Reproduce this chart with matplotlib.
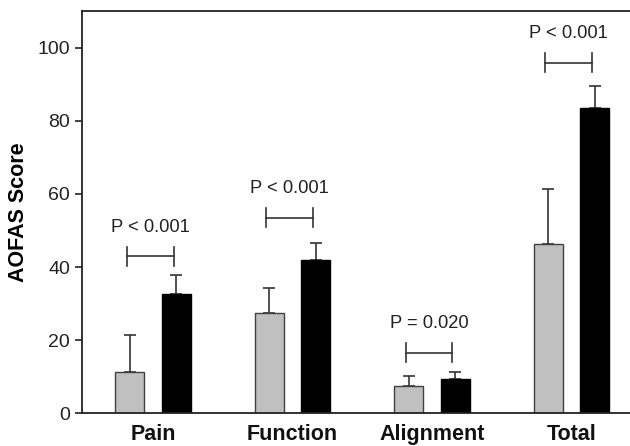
import numpy as np
import matplotlib
matplotlib.use("Agg")
import matplotlib.pyplot as plt

plt.rcParams['font.family'] = ['Liberation Sans', 'DejaVu Sans']

categories = ["Pain", "Function", "Alignment", "Total"]
pre_means = [11.2, 27.4, 7.5, 46.3]
pre_err = [10.2, 6.9, 2.7, 14.9]
post_means = [32.5, 41.8, 9.3, 83.5]
post_err = [5.4, 4.8, 2.1, 5.9]
p_labels = ["P < 0.001", "P < 0.001", "P = 0.020", "P < 0.001"]
bracket_y = [42.9, 53.5, 16.6, 95.9]

x = np.arange(len(categories))
offset = 0.167
width = 0.208

fig = plt.figure(figsize=(6.3, 4.46), dpi=100)
ax = fig.add_axes([0.130, 0.0733, 0.870, 0.902])

ax.bar(x - offset, pre_means, width, color="#c0c0c0", edgecolor="#404040", linewidth=1.0, zorder=2)
ax.bar(x + offset, post_means, width, color="#000000", edgecolor="#000000", linewidth=1.0, zorder=2)
ax.errorbar(x - offset, pre_means, yerr=[np.zeros(4), pre_err], fmt="none",
            ecolor="#333333", elinewidth=1.2, capsize=4.5, capthick=1.2, zorder=1)
ax.errorbar(x + offset, post_means, yerr=[np.zeros(4), post_err], fmt="none",
            ecolor="#333333", elinewidth=1.2, capsize=4.5, capthick=1.2, zorder=1)

# significance brackets
for i in range(len(categories)):
    x1 = x[i] - offset - 0.02
    x2 = x[i] + offset - 0.02
    y = bracket_y[i]
    ax.plot([x1, x2], [y, y], color="#333333", lw=1.2)
    ax.plot([x1, x1], [y - 2.6, y + 2.6], color="#333333", lw=1.2)
    ax.plot([x2, x2], [y - 2.6, y + 2.6], color="#333333", lw=1.2)
    ax.text((x1 + x2) / 2, y + 8.0, p_labels[i], ha="center", va="center",
            fontsize=13.2, color="#222222")

ax.set_xlim(-0.51, 3.42)
ax.set_ylim(0, 110)
ax.set_yticks([0, 20, 40, 60, 80, 100])
ax.tick_params(axis="y", labelsize=14, length=5, width=1.2, direction="out", colors="#222222")
ax.set_xticks(x)
ax.set_xticklabels(categories, fontsize=15.5, fontweight="bold")
ax.tick_params(axis="x", length=0, pad=8, colors="#111111")
ax.set_ylabel("AOFAS Score", fontsize=15.5, fontweight="bold", labelpad=6)

ax.spines["right"].set_visible(False)
for s in ["left", "bottom", "top"]:
    ax.spines[s].set_linewidth(1.3)
    ax.spines[s].set_color("#222222")

fig.savefig("out.png", dpi=100)
